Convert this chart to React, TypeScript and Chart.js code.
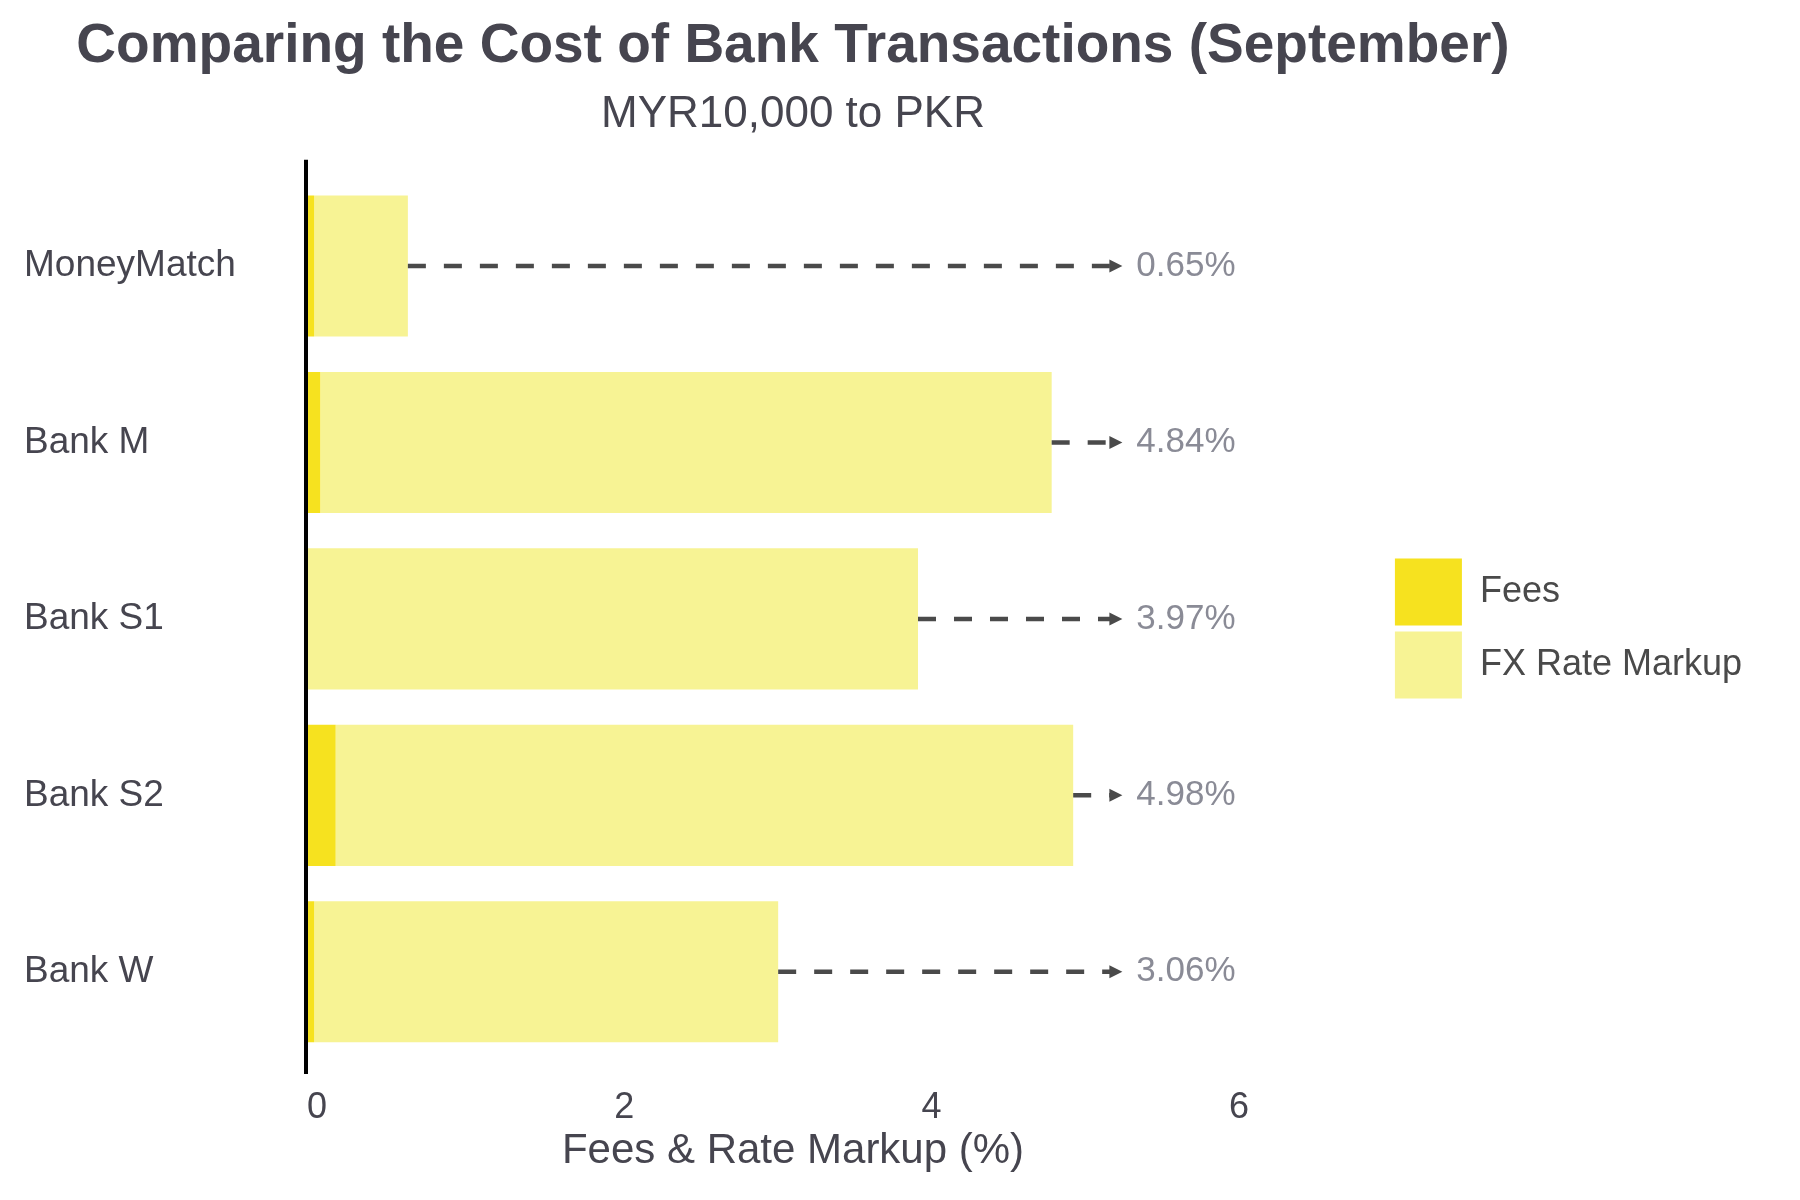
import { useEffect, useRef } from "react"
import { Chart, registerables } from "chart.js"
import type { Plugin } from "chart.js"

Chart.register(...registerables)

// Data
const banks = ["MoneyMatch", "Bank M", "Bank S1", "Bank S2", "Bank W"]
const fees = [0.04, 0.08, 0, 0.18, 0.04]
const fxMarkup = [0.61, 4.76, 3.97, 4.8, 3.02]
const xTicks = [0, 2, 4, 6]
const arrowTip = 5.3

const FONT = "'Liberation Sans', Arial, Helvetica, sans-serif"
const TEXT = "#46454f"
const FEES_COLOR = "#f6e21f"
const FX_COLOR = "#f7f394"
const TITLE_CENTER = 793

Chart.defaults.font.family = FONT

// centre the titles (chart title, subtitle, x-axis title) on the same column
const titleShift: Plugin<"bar"> = {
  id: "titleShift",
  afterLayout(chart) {
    chart.boxes
      .filter((b: any) => b.position === "top")
      .forEach((b: any) => {
        b.left = 0
        b.right = TITLE_CENTER * 2
      })
    // only the title uses left/right at draw time, the pixel mapping is already configured
    const xs: any = chart.scales.x
    xs.right = TITLE_CENTER * 2 - xs.left
  },
}

// zero line, dashed arrows and total labels
const annotations: Plugin<"bar"> = {
  id: "annotations",
  afterDatasetsDraw(chart) {
    const { ctx, chartArea, scales } = chart
    const x = scales.x
    const y = scales.y
    ctx.save()

    const x0 = x.getPixelForValue(0) - 2
    ctx.strokeStyle = "#000000"
    ctx.lineWidth = 4
    ctx.beginPath()
    ctx.moveTo(x0, chartArea.top - 18)
    ctx.lineTo(x0, chartArea.bottom + 14)
    ctx.stroke()

    const tip = x.getPixelForValue(arrowTip)
    banks.forEach((_, i) => {
      const total = fees[i] + fxMarkup[i]
      const yc = y.getPixelForValue(i)
      const xs = x.getPixelForValue(total)

      ctx.strokeStyle = "#4a4a4a"
      ctx.lineWidth = 4.5
      ctx.setLineDash([18, 18])
      ctx.beginPath()
      ctx.moveTo(xs, yc)
      ctx.lineTo(tip - 12, yc)
      ctx.stroke()
      ctx.setLineDash([])

      ctx.fillStyle = "#4a4a4a"
      ctx.beginPath()
      ctx.moveTo(tip, yc)
      ctx.lineTo(tip - 13, yc - 6.5)
      ctx.lineTo(tip - 13, yc + 6.5)
      ctx.closePath()
      ctx.fill()

      ctx.fillStyle = "#8a8b96"
      ctx.font = `35px ${FONT}`
      ctx.textAlign = "left"
      ctx.textBaseline = "middle"
      ctx.fillText(`${total.toFixed(2)}%`, tip + 14, yc)
    })
    ctx.restore()
  },
}

export default function App() {
  const chartRef = useRef<HTMLCanvasElement>(null)
  const chartInstance = useRef<Chart | null>(null)

  useEffect(() => {
    if (!chartRef.current) return
    if (chartInstance.current) chartInstance.current.destroy()
    const ctx = chartRef.current.getContext("2d")
    if (!ctx) return

    chartInstance.current = new Chart(ctx, {
      type: "bar",
      data: {
        labels: banks,
        datasets: [
          {
            label: "Fees",
            data: fees,
            backgroundColor: FEES_COLOR,
            borderWidth: 0,
            barPercentage: 0.8,
            categoryPercentage: 1,
          },
          {
            label: "FX Rate Markup",
            data: fxMarkup,
            backgroundColor: FX_COLOR,
            borderWidth: 0,
            barPercentage: 0.8,
            categoryPercentage: 1,
          },
        ],
      },
      options: {
        indexAxis: "y",
        responsive: true,
        maintainAspectRatio: false,
        animation: false,
        layout: {
          padding: { left: 24, right: 48, top: 0, bottom: 28 },
        },
        scales: {
          x: {
            type: "linear",
            stacked: true,
            min: xTicks[0],
            max: xTicks[xTicks.length - 1],
            grid: { display: false, drawTicks: false },
            border: { display: false },
            ticks: {
              stepSize: 2,
              color: TEXT,
              font: { size: 36 },
              padding: 26,
              labelOffset: 9,
            },
            title: {
              display: true,
              text: "Fees & Rate Markup (%)",
              color: TEXT,
              font: { size: 42, lineHeight: 1 },
              padding: 0,
            },
            afterFit: (scale) => {
              scale.height = 112
            },
          },
          y: {
            stacked: true,
            grid: { display: false, drawTicks: false },
            border: { display: false },
            ticks: {
              color: TEXT,
              font: { size: 37 },
              crossAlign: "far",
              autoSkip: false,
            },
            afterFit: (scale) => {
              scale.width = 284
            },
          },
          spacer: {
            type: "linear",
            position: "right",
            display: true,
            grid: { display: false, drawTicks: false },
            border: { display: false },
            ticks: { display: false },
            afterFit: (scale) => {
              scale.width = 159
            },
          },
        },
        plugins: {
          title: {
            display: true,
            text: "Comparing the Cost of Bank Transactions (September)",
            color: TEXT,
            font: { size: 55, weight: "bold", lineHeight: 1.2 },
            padding: { top: 14, bottom: 0 },
          },
          subtitle: {
            display: true,
            text: "MYR10,000 to PKR",
            color: TEXT,
            font: { size: 44, lineHeight: 1.2 },
            padding: { top: 8, bottom: 37 },
          },
          legend: {
            position: "right",
            align: "center",
            fullSize: false,
            maxWidth: 420,
            title: {
              display: true,
              text: "",
              font: { size: 10, lineHeight: 1 },
              padding: { top: 9, bottom: 0 },
            },
            labels: {
              boxWidth: 67,
              boxHeight: 67,
              padding: 6,
              color: "#4a4a4a",
              font: { size: 36 },
            },
          },
          tooltip: { enabled: false },
        },
      },
      plugins: [titleShift, annotations],
    })

    return () => {
      if (chartInstance.current) {
        chartInstance.current.destroy()
        chartInstance.current = null
      }
    }
  }, [])

  return (
    <div style={{ position: "fixed", left: 0, top: 0, width: 1800, height: 1200, background: "#ffffff" }}>
      <canvas ref={chartRef} />
    </div>
  )
}
